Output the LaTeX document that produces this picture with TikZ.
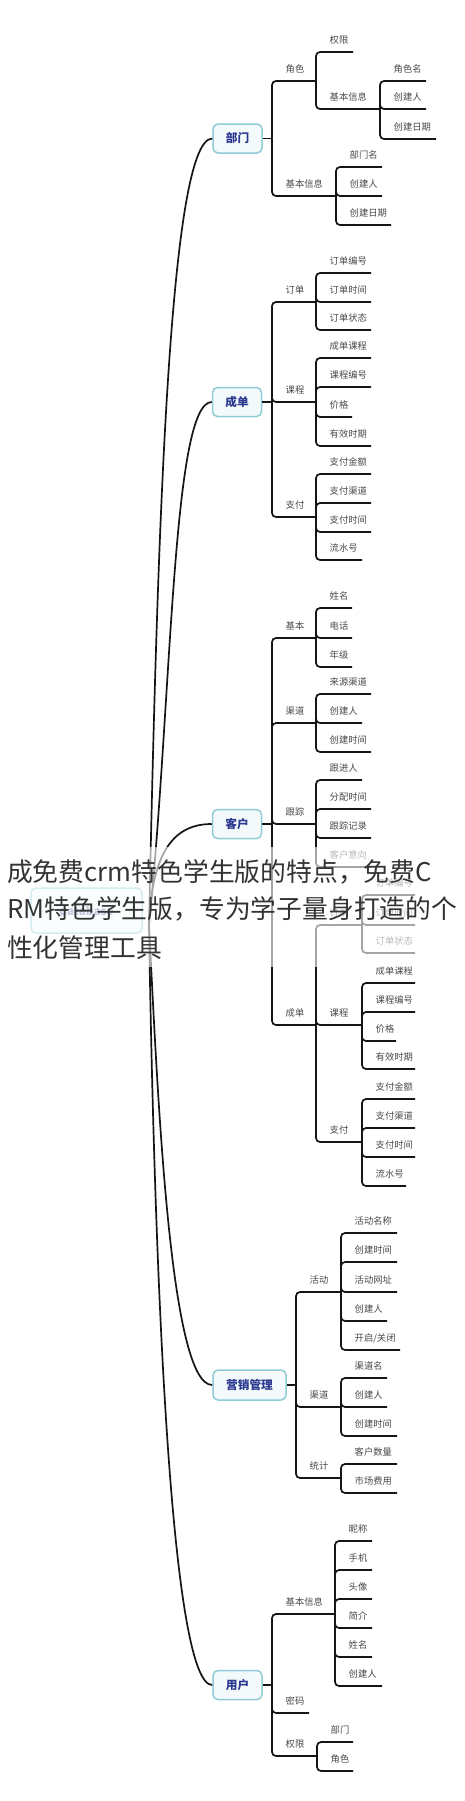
\documentclass[tikz,border=0pt]{standalone}
\usepackage{fontspec}
\setmainfont{Noto Sans CJK SC}
\usetikzlibrary{calc}
\definecolor{lnc}{HTML}{151515}
\definecolor{lblc}{HTML}{4A4A4A}
\definecolor{boxb}{HTML}{8FCCD6}
\definecolor{boxf}{HTML}{F4FAFC}
\definecolor{boxt}{HTML}{2B3990}
\definecolor{ovt}{HTML}{333333}
\newcommand\mmitem[5]{%
  \coordinate (#1) at (#4,#3);
  \node[lbl] (#1t) at ($(#2 |- 0,#3)+(13.5,-8.4)$) {#5};
  \draw[conn] (#2) |- (#1);
}
\begin{document}
\begin{tikzpicture}[x=1pt,y=-1pt,
  conn/.style={line width=1.7pt, draw=lnc, rounded corners=4pt},
  mainln/.style={line width=1.7pt, draw=lnc},
  lbl/.style={anchor=base west, inner sep=0pt, font=\fontsize{9.3}{11}\selectfont, text=lblc},
  mbox/.style={draw=boxb, line width=1.5pt, fill=boxf, rounded corners=5pt, inner sep=0pt,
     text=boxt, font=\bfseries\fontsize{11.7}{13}\selectfont},
  ovl/.style={anchor=base west, inner sep=0pt, font=\fontsize{25.8}{30}\selectfont, text=ovt}]
\useasboundingbox (0,0) rectangle (465,1801);
\fill[white] (0,0) rectangle (465,1801);

% root
\node[mbox, minimum width=111pt, minimum height=45pt, text=boxt!70] (root) at (86.5,910.5) {database};
\coordinate (J) at (149,925);

% main boxes
\node[mbox, minimum width=49pt, minimum height=29pt] (bm) at (237.5,138.5) {部门};
\node[mbox, minimum width=49pt, minimum height=29pt] (cd) at (237,402) {成单};
\node[mbox, minimum width=49pt, minimum height=29pt] (kh) at (237,824) {客户};
\node[mbox, minimum width=73pt, minimum height=30pt] (yx) at (249.5,1385) {营销管理};
\node[mbox, minimum width=49pt, minimum height=29pt] (yh) at (237.5,1685) {用户};

% main curves
\draw[mainln] (J) .. controls (157,560) and (168,138.5) .. (bm.west);
\draw[mainln] (J) .. controls (172,700) and (172,402) .. (cd.west);
\draw[mainln] (J) .. controls (152,850) and (175,824) .. (kh.west);
\draw[mainln] (J) .. controls (158,1100) and (170,1385) .. (yx.west);
\draw[mainln] (J) .. controls (155,1300) and (172,1685) .. (yh.west);

% 部门
\coordinate (bmJ) at (272,138.5);
\draw[conn] (bm.east) -- (bmJ);
\mmitem{d1}{bmJ}{81}{316}{角色}
\mmitem{d11}{d1}{52}{353}{权限}
\mmitem{d12}{d1}{109}{380}{基本信息}
\mmitem{d121}{d12}{81}{426}{角色名}
\mmitem{d122}{d12}{109}{426}{创建人}
\mmitem{d123}{d12}{139}{436}{创建日期}
\mmitem{d2}{bmJ}{196}{336}{基本信息}
\mmitem{d21}{d2}{167}{382}{部门名}
\mmitem{d22}{d2}{196}{382}{创建人}
\mmitem{d23}{d2}{225}{391}{创建日期}

% 成单
\coordinate (cdJ) at (272,402);
\draw[conn] (cd.east) -- (cdJ);
\mmitem{c1}{cdJ}{302}{316}{订单}
\mmitem{c11}{c1}{273}{371}{订单编号}
\mmitem{c12}{c1}{302}{371}{订单时间}
\mmitem{c13}{c1}{330}{371}{订单状态}
\mmitem{c2}{cdJ}{402}{316}{课程}
\mmitem{c21}{c2}{358}{371}{成单课程}
\mmitem{c22}{c2}{387}{371}{课程编号}
\mmitem{c23}{c2}{417}{352}{价格}
\mmitem{c24}{c2}{446}{371}{有效时期}
\mmitem{c3}{cdJ}{517}{316}{支付}
\mmitem{c31}{c3}{474}{371}{支付金额}
\mmitem{c32}{c3}{503}{371}{支付渠道}
\mmitem{c33}{c3}{532}{371}{支付时间}
\mmitem{c34}{c3}{560}{362}{流水号}

% 客户
\coordinate (khJ) at (272,824);
\draw[conn] (kh.east) -- (khJ);
\mmitem{k1}{khJ}{638}{316}{基本}
\mmitem{k11}{k1}{608}{352}{姓名}
\mmitem{k12}{k1}{638}{352}{电话}
\mmitem{k13}{k1}{667}{352}{年级}
\mmitem{k2}{khJ}{723}{316}{渠道}
\mmitem{k21}{k2}{694}{371}{来源渠道}
\mmitem{k22}{k2}{723}{362}{创建人}
\mmitem{k23}{k2}{752}{371}{创建时间}
\mmitem{k3}{khJ}{824}{316}{跟踪}
\mmitem{k31}{k3}{780}{362}{跟进人}
\mmitem{k32}{k3}{809}{371}{分配时间}
\mmitem{k33}{k3}{838}{371}{跟踪记录}
\mmitem{k34}{k3}{867}{371}{客户意向}
\mmitem{k4}{khJ}{1025}{316}{成单}
\mmitem{k41}{k4}{925}{362}{订单}
\mmitem{k411}{k41}{895}{415}{订单编号}
\mmitem{k412}{k41}{925}{415}{订单时间}
\mmitem{k413}{k41}{953}{415}{订单状态}
\mmitem{k42}{k4}{1025}{362}{课程}
\mmitem{k421}{k42}{983}{415}{成单课程}
\mmitem{k422}{k42}{1012}{415}{课程编号}
\mmitem{k423}{k42}{1041}{396}{价格}
\mmitem{k424}{k42}{1069}{415}{有效时期}
\mmitem{k43}{k4}{1142}{362}{支付}
\mmitem{k431}{k43}{1099}{415}{支付金额}
\mmitem{k432}{k43}{1128}{415}{支付渠道}
\mmitem{k433}{k43}{1157}{415}{支付时间}
\mmitem{k434}{k43}{1186}{406}{流水号}

% 营销管理
\coordinate (yxJ) at (296,1385);
\draw[conn] (yx.east) -- (yxJ);
\mmitem{y1}{yxJ}{1292}{341}{活动}
\mmitem{y11}{y1}{1233}{397}{活动名称}
\mmitem{y12}{y1}{1262}{397}{创建时间}
\mmitem{y13}{y1}{1292}{397}{活动网址}
\mmitem{y14}{y1}{1321}{387}{创建人}
\mmitem{y15}{y1}{1350}{400}{开启/关闭}
\mmitem{y2}{yxJ}{1407}{341}{渠道}
\mmitem{y21}{y2}{1378}{387}{渠道名}
\mmitem{y22}{y2}{1407}{387}{创建人}
\mmitem{y23}{y2}{1436}{397}{创建时间}
\mmitem{y3}{yxJ}{1478}{341}{统计}
\mmitem{y31}{y3}{1464}{397}{客户数量}
\mmitem{y32}{y3}{1493}{397}{市场费用}

% 用户
\coordinate (yhJ) at (272,1685);
\draw[conn] (yh.east) -- (yhJ);
\mmitem{u1}{yhJ}{1614}{335}{基本信息}
\mmitem{u11}{u1}{1541}{372}{昵称}
\mmitem{u12}{u1}{1570}{372}{手机}
\mmitem{u13}{u1}{1599}{372}{头像}
\mmitem{u14}{u1}{1628}{372}{简介}
\mmitem{u15}{u1}{1657}{372}{姓名}
\mmitem{u16}{u1}{1686}{382}{创建人}
\mmitem{u2}{yhJ}{1713}{309}{密码}
\mmitem{u3}{yhJ}{1756}{317}{权限}
\mmitem{u31}{u3}{1742}{353}{部门}
\mmitem{u32}{u3}{1771}{353}{角色}

% overlay
\fill[white, opacity=0.62] (0,847) rectangle (465,967);
\node[ovl] (ov1) at (7,881) {成免费crm特色学生版的特点，免费C};
\node[ovl] (ov2) at (7,918) {RM特色学生版，专为学子量身打造的个};
\node[ovl] (ov3) at (7,957) {性化管理工具};
\end{tikzpicture}
\end{document}
